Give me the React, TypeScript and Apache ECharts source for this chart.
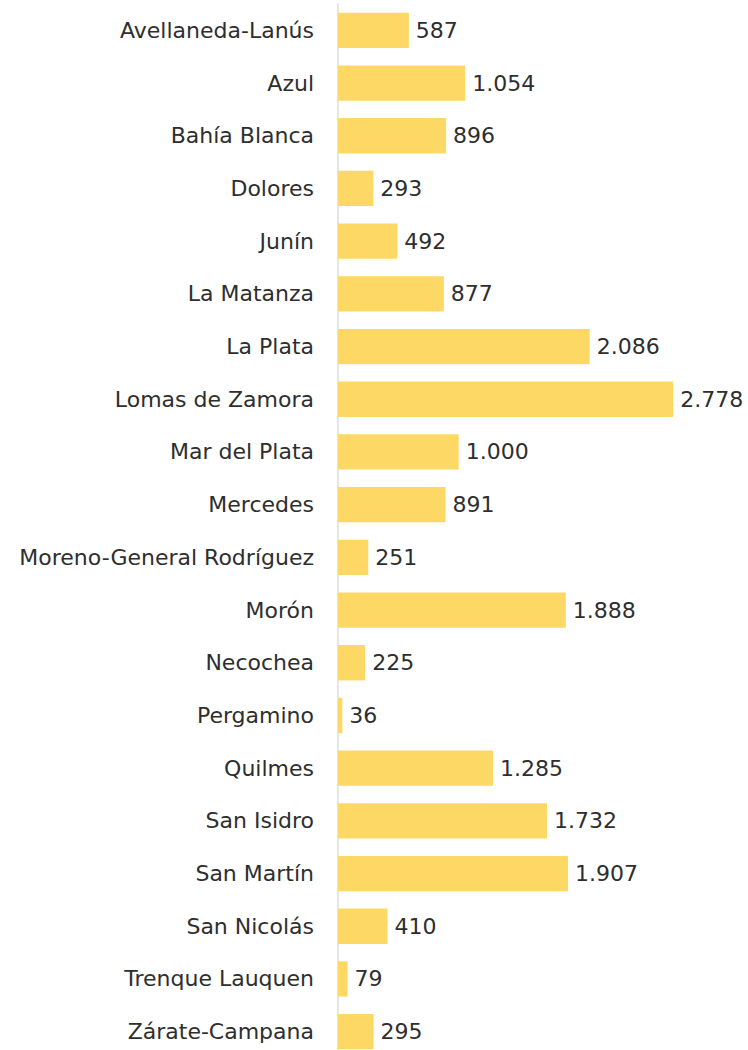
import React, { useEffect, useRef } from "react";
import * as echarts from "echarts";

const categories = [
  "Avellaneda-Lanús",
  "Azul",
  "Bahía Blanca",
  "Dolores",
  "Junín",
  "La Matanza",
  "La Plata",
  "Lomas de Zamora",
  "Mar del Plata",
  "Mercedes",
  "Moreno-General Rodríguez",
  "Morón",
  "Necochea",
  "Pergamino",
  "Quilmes",
  "San Isidro",
  "San Martín",
  "San Nicolás",
  "Trenque Lauquen",
  "Zárate-Campana",
];

const values = [587, 1054, 896, 293, 492, 877, 2086, 2778, 1000, 891, 251, 1888, 225, 36, 1285, 1732, 1907, 410, 79, 295];

const fmt = (v: number) => String(v).replace(/\B(?=(\d{3})+(?!\d))/g, ".");

export default function App() {
  const ref = useRef<HTMLDivElement>(null);
  useEffect(() => {
    if (!ref.current) return;
    const chart = echarts.init(ref.current, null, { renderer: "svg" });
    chart.setOption({
      animation: false,
      grid: { left: 338, top: 4, width: 362, height: 1054, containLabel: false },
      xAxis: {
        type: "value",
        min: 0,
        max: 3000,
        show: false,
      },
      yAxis: {
        type: "category",
        data: categories,
        inverse: true,
        axisLine: { show: true, lineStyle: { color: "#dcdcdc", width: 1.5 } },
        axisTick: { show: false },
        axisLabel: {
          margin: 24,
          fontSize: 22,
          fontFamily: "DejaVu Sans",
          color: "#2e2e2e",
          padding: [2, 0, 0, 0],
        },
      },
      series: [
        {
          type: "bar",
          data: values,
          barCategoryGap: "33%",
          itemStyle: { color: "#FDD865" },
          label: {
            show: true,
            position: "right",
            distance: 7,
            fontSize: 22,
            fontFamily: "DejaVu Sans",
            color: "#2e2e2e",
            padding: [2, 0, 0, 0],
            formatter: (p: any) => fmt(p.value),
          },
        },
      ],
    });
    return () => chart.dispose();
  }, []);
  return (
    <div
      ref={ref}
      style={{ position: "absolute", left: 0, top: 0, width: 748, height: 1062 }}
    />
  );
}
